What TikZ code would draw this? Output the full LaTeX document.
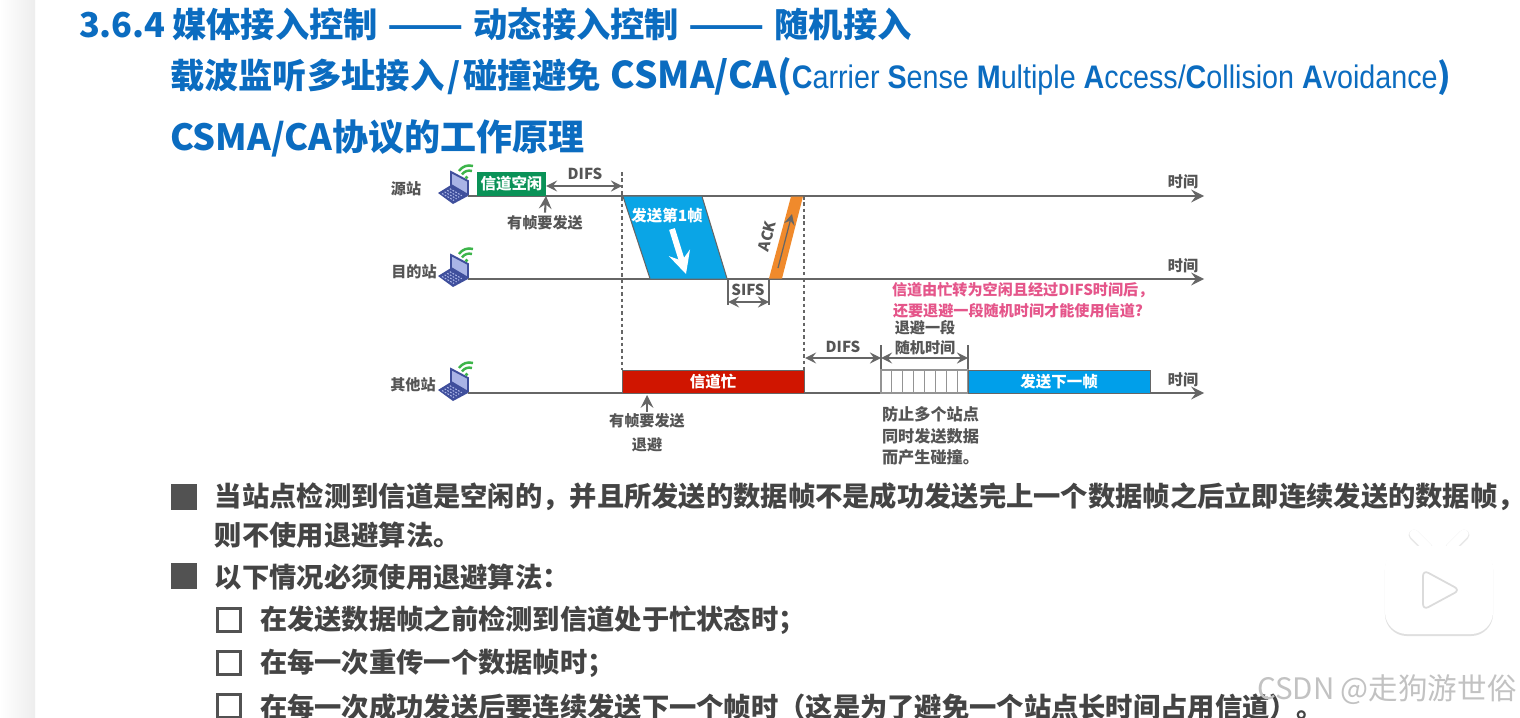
\documentclass[tikz,border=0pt]{standalone}
\usepackage{fontspec}
\usepackage{graphicx}
\setmainfont{Noto Sans CJK SC}
\newfontfamily\latinfont[FakeStretch=0.88]{Liberation Sans}
\usetikzlibrary{shadows}

\definecolor{titleblue}{HTML}{0B6CC0}
\definecolor{bodygray}{HTML}{444444}
\definecolor{labelgray}{HTML}{555555}
\definecolor{linegray}{HTML}{666666}
\definecolor{idlegreen}{HTML}{0A9257}
\definecolor{framecyan}{HTML}{0AA5E6}
\definecolor{nextblue}{HTML}{009FEA}
\definecolor{ackorange}{HTML}{F08A2C}
\definecolor{busyred}{HTML}{D01500}
\definecolor{notepink}{HTML}{E5558A}
\definecolor{wifigreen}{HTML}{3DB54A}
\definecolor{pcblue}{HTML}{3F4F9C}
\definecolor{pcscreen}{HTML}{A9B4E6}

\newcommand{\longdash}{\hspace{0.095cm}\scalebox{1.3}[1]{——}\hspace{0.095cm}}

\tikzset{
    titletxt/.style={anchor=west, text=titleblue, font=\fontsize{9.75}{12}\selectfont\bfseries},
    bodytxt/.style={anchor=west, text=bodygray, font=\fontsize{7.76}{10}\selectfont\bfseries},
    lbl/.style={text=labelgray, font=\fontsize{4.3}{6}\selectfont\bfseries},
    inbar/.style={text=white, font=\fontsize{4.4}{6}\selectfont\bfseries},
    bar/.style={anchor=south west, minimum height=0.23cm},
    tline/.style={draw=linegray, line width=0.6pt},
    dimline/.style={draw=linegray, line width=0.4pt, <->},
    tickline/.style={draw=linegray, line width=0.35pt},
    vdash/.style={draw=linegray, line width=0.35pt, dash pattern=on 1pt off 0.8pt},
    sqfull/.style={fill=black!68, minimum size=0.26cm},
    sqopen/.style={draw=black!68, line width=0.85pt, minimum size=0.235cm},
    laptop/.pic={
        \fill[pcblue] (-17,5) -- (-4,-3) -- (13,8) -- (-2,16) -- cycle;
        \foreach \k in {0,1,2,3} {
            \draw[pcscreen, line width=0.3pt, dash pattern=on 0.5pt off 0.4pt]
                ({-13+\k*2.6},{5.5-\k*1.6}) -- ({-1+\k*2.6},{12.5-\k*1.6});
        }
        \filldraw[fill=pcscreen, draw=pcblue, line width=0.55pt] (-4,-16) -- (13,-7) -- (13,7) -- (-4,-3) -- cycle;
        \draw[wifigreen, line width=0.7pt] (4,-17) to[bend left=35] (18,-22);
        \draw[wifigreen, line width=0.7pt] (7,-13.5) to[bend left=35] (17,-17);
        \fill[wifigreen] (11.5,-10.5) circle (1.8);
        \coordinate (-out) at (13,8);
    }
}

\begin{document}
\begin{tikzpicture}[x=0.01cm, y=-0.01cm, >=stealth,
    every node/.style={inner sep=0pt, outer sep=0pt}]

\path[use as bounding box] (0,0) rectangle (1520,718);
\clip (0,0) rectangle (1520,718);
\fill[white] (0,0) rectangle (1520,718);
\shade[left color=white, right color=black!7] (0,0) rectangle (35,718);

% Heading
\node (head1) [titletxt] at (79,24) {3.6.4\hspace{0.065cm}媒体接入控制\longdash 动态接入控制\longdash 随机接入};
\node (head2) [titletxt] at (170,77) {载波监听多址接入\hspace{0.03cm}/\hspace{0.03cm}碰撞避免\hspace{0.1cm}{\fontsize{10.5}{12}\selectfont CSMA/CA(}{\latinfont\fontsize{9.27}{12}\selectfont C\mdseries arrier \bfseries S\mdseries ense \bfseries M\mdseries ultiple \bfseries A\mdseries ccess/\bfseries C\mdseries ollision \bfseries A\mdseries voidance}\bfseries)};
\node (head3) [titletxt, font=\fontsize{10.25}{12}\selectfont\bfseries] at (170,138) {CSMA/CA协议的工作原理};

% Stations
\pic (srcpc) at (455,188) {laptop};
\pic (dstpc) at (455,271) {laptop};
\pic (othpc) at (455,385) {laptop};
\node (srclbl) [lbl] at (406,189) {源站};
\node (dstlbl) [lbl] at (414,272) {目的站};
\node (othlbl) [lbl] at (413,385) {其他站};

% Time axes
\coordinate (srcend) at (1204,196);
\coordinate (dstend) at (1204,279);
\coordinate (othend) at (1204,393);
\draw[tline,->] (srcpc-out) -- (srcend);
\draw[tline,->] (dstpc-out) -- (dstend);
\draw[tline,->] (othpc-out) -- (othend);
\node (srctime) [lbl] at (1183,182) {时间};
\node (dsttime) [lbl] at (1183,266) {时间};
\node (othtime) [lbl] at (1183,380) {时间};

% Source station
\node (idle) [bar, fill=idlegreen, inbar, minimum width=0.69cm, minimum height=0.24cm] at (477,196) {信道空闲};
\coordinate (fstart) at (622,186);
\node (difsa) [lbl] at (585,174) {DIFS};
\draw[dimline] (546,186) coordinate (difsaL) -- (fstart);
\node (want1) [lbl] at (545,223) {有帧要发送};
\draw[tline,->] (want1.north) ++(0,-3) coordinate (want1top) -- (idle.south east);

% Dashed guides
\coordinate (g1a) at (622,172);
\coordinate (g1b) at (622,370);
\coordinate (g2a) at (804,196);
\coordinate (g2b) at (804,370);
\draw[vdash] (g1a) -- (g1b);
\draw[vdash] (g2a) -- (g2b);

% First frame
\fill[framecyan] (623,196.5) -- (702,196.5) -- (727,278.5) -- (650,278.5) -- cycle;
\draw[linegray, line width=0.3pt] (702,196.5) -- (727,278.5);
\draw[linegray, line width=0.3pt] (623,196.5) -- (650,278.5);
\node (frame1) [inbar] at (667,216) {发送第1帧};
\coordinate (fa) at (672,229);
\coordinate (fb) at (686,274);
\draw[white, line width=1.7pt, ->] (fa) -- (fb);

% ACK
\fill[ackorange] (791,196.5) -- (803,196.5) -- (782,278.5) -- (769,278.5) -- cycle;
\coordinate (acka) at (778,268);
\coordinate (ackb) at (792,214);
\draw[linegray, line width=0.35pt, ->] (acka) -- (ackb);
\node (acklbl) [lbl, rotate=75] at (767,236) {ACK};

% SIFS
\coordinate (sa) at (728,279);
\coordinate (sb) at (769,279);
\coordinate (sc) at (728,305);
\coordinate (sd) at (769,305);
\draw[tickline] (sa) -- (sc);
\draw[tickline] (sb) -- (sd);
\node (sifs) [lbl] at (748,290) {SIFS};
\draw[dimline] (728,302) coordinate (sifsL) -- (769,302) coordinate (sifsR);

% Note
\node (note) [anchor=west, align=left, text=notepink, font=\fontsize{4.3}{6}\selectfont\bfseries] at (892,300) {信道由忙转为空闲且经过DIFS时间后，\\\hspace{0.01cm}还要退避一段随机时间才能使用信道?};

% Other stations
\node (busy) [bar, fill=busyred, draw=linegray, line width=0.25pt, inbar, minimum width=1.82cm] at (622,393) {信道忙};
\node (want2) [lbl] at (647,421) {有帧要发送};
\node (wait) [lbl] at (647,445) {退避};
\coordinate (want2b) at (647,395);
\draw[tline,->] (want2.north) ++(0,-2) coordinate (want2t) -- (want2b);

\coordinate (t3a) at (881,345);
\coordinate (t3b) at (881,370);
\coordinate (t4a) at (968,345);
\coordinate (t4b) at (968,370);
\draw[tickline] (t3a) -- (t3b);
\draw[tickline] (t4a) -- (t4b);
\node (difsb) [lbl] at (843,347) {DIFS};
\draw[dimline] (805,358) coordinate (difsbL) -- (881,358) coordinate (difsbR);
\draw[dimline] (881,358) -- (968,358);
\node (back1) [lbl] at (925,328) {退避一段};
\node (back2) [lbl] at (925,348) {随机时间};

\foreach \i in {0,...,7} {
    \node (cell\i) [bar, draw=linegray!70, line width=0.3pt, minimum width=0.10875cm] at ({881+\i*10.875},393) {};
}
\node (next) [bar, fill=nextblue, draw=linegray, line width=0.25pt, inbar, minimum width=1.82cm] at (968,393) {发送下一帧};
\node (avoid) [anchor=north west, align=left, lbl, font=\fontsize{4.6}{6}\selectfont\bfseries] at (882,407) {防止多个站点\\同时发送数据\\而产生碰撞。};

% Bullets
\node (sq1) [sqfull] at (184,497) {};
\node (sq2) [sqfull] at (184,576) {};
\node (sq3) [sqopen] at (229,620) {};
\node (sq4) [sqopen] at (229,663) {};
\node (sq5) [sqopen] at (229,706) {};
\node (txt1) [bodytxt] at (215,497) {当站点检测到信道是空闲的，并且所发送的数据帧不是成功发送完上一个数据帧之后立即连续发送的数据帧，};
\node (txt2) [bodytxt] at (215,535) {则不使用退避算法。};
\node (txt3) [bodytxt] at (215,577) {以下情况必须使用退避算法：};
\node (txt4) [bodytxt] at (260,620) {在发送数据帧之前检测到信道处于忙状态时；};
\node (txt5) [bodytxt] at (260,663) {在每一次重传一个数据帧时；};
\node (txt6) [bodytxt] at (260,707) {在每一次成功发送后要连续发送下一个帧时（这是为了避免一个站点长时间占用信道）。};

% Video badge
\draw[black!9, line width=3.1pt, line cap=round] (1414,535) -- (1428,549);
\draw[black!9, line width=3.1pt, line cap=round] (1464,535) -- (1450,549);
\node (badge) [fill=white, rounded corners=0.22cm, minimum width=1.08cm, minimum height=0.88cm,
    drop shadow={shadow xshift=0cm, shadow yshift=-0.02cm, opacity=0.25}] at (1439,590) {};
\draw[white, line width=2.6pt, line cap=round] (1414,534) -- (1428,548);
\draw[white, line width=2.6pt, line cap=round] (1464,534) -- (1450,548);
\filldraw[fill=white, draw=black!14, line width=0.5pt, rounded corners=0.06cm] (1423,570) -- (1460,590) -- (1423,610) -- cycle;

% Watermark
\node (mark) [anchor=west, text=black!24, font=\fontsize{8.4}{10}\selectfont] at (1257,690) {CSDN @走狗游世俗};

\end{tikzpicture}
\end{document}
